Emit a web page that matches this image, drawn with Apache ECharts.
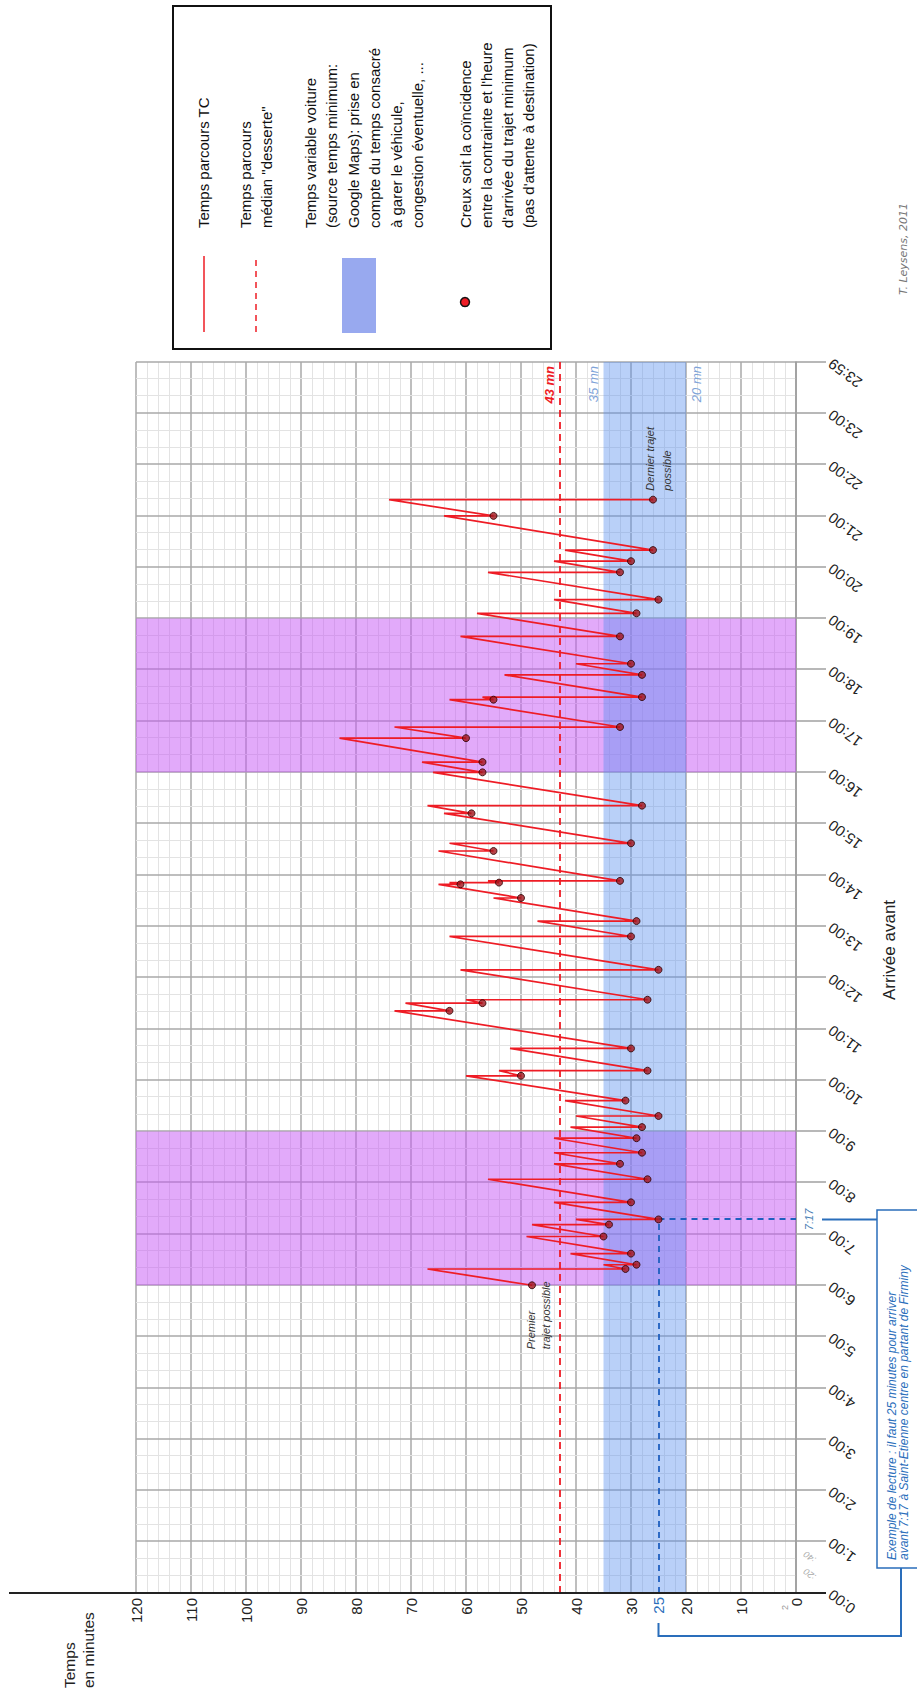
<!DOCTYPE html>
<html><head><meta charset="utf-8">
<script src="https://cdn.jsdelivr.net/npm/echarts@6/dist/echarts.min.js"></script>
<style>
html,body{margin:0;padding:0;background:#fff;overflow:hidden;width:917px;height:1691px;}
#wrap{position:absolute;left:0;top:0;width:1691px;height:917px;transform-origin:0 0;transform:translateY(1691px) rotate(-90deg);background:#fff;}
</style></head><body><div id="wrap"></div>
<script>
// ---- DATA ----
const tripTimes = ['6:00','6:19','6:24','6:37','6:57','7:11','7:17','7:37','8:04','8:22','8:35','8:52','9:05','9:18','9:36','10:05','10:11','10:37','11:21','11:30','11:34','12:09','12:48','13:06','13:33','13:49','13:51','13:53','14:28','14:37','15:12','15:21','16:00','16:12','16:40','16:53','17:25','17:28','17:54','18:07','18:39','19:06','19:22','19:54','20:07','20:20','21:00','21:19'];
const tripMinutes = [48,31,29,30,35,34,25,30,27,32,28,29,28,25,31,50,27,30,63,57,27,25,30,29,50,61,54,32,55,30,59,28,57,57,60,32,55,28,28,30,32,29,25,32,30,26,55,26];
const peakMinutes = [null,67,35,41,49,48,40,44,56,44,44,44,41,40,42,60,54,52,73,71,60,61,63,47,55,65,63,56,65,63,64,67,66,68,83,73,63,57,53,40,61,58,44,56,44,42,64,74];
const timeTickLabels = ['0:00','1:00','2:00','3:00','4:00','5:00','6:00','7:00','8:00','9:00','10:00','11:00','12:00','13:00','14:00','15:00','16:00','17:00','18:00','19:00','20:00','21:00','22:00','23:00','23:59'];
const minorTimeLabels = [':20', ':40'];
const carBand = [20, 35];
const peakHourBands = [[6, 9], [16, 19]];
const medianMinutes = 43;
const exampleTime = '7:17';
const exampleMinutes = 25;

// ---- BUILD ----
const toH = s => { const p = s.split(':'); return +p[0] + (+p[1]) / 60; };
const lineData = [];
tripTimes.forEach((t, i) => {
  const h = toH(t);
  if (i > 0) lineData.push([h, peakMinutes[i]]);
  lineData.push([h, tripMinutes[i]]);
});
const dotData = tripTimes.map((t, i) => [toH(t), tripMinutes[i]]);
const exH = toH(exampleTime);

const FONT = '"Liberation Sans", Arial, sans-serif';
const RED = '#ee1c25';
const BLUE = '#2a6ebb';

const chart = echarts.init(document.getElementById('wrap'), null, {renderer: 'svg', width: 1691, height: 917});
const bandLabel = (pos, txt) => ({show: true, position: pos, formatter: txt, color: '#7ea3d8', fontStyle: 'italic', fontSize: 13, fontFamily: FONT, distance: 4});
const option = {
  animation: false,
  backgroundColor: '#fff',
  grid: {left: 98, right: 362, top: 136, bottom: 121, containLabel: false, outerBoundsMode: 'none'},
  xAxis: {
    type: 'value', min: 0, max: 24, interval: 1,
    axisLine: {show: true, onZero: false, lineStyle: {color: '#9a9a9a', width: 1.5}},
    axisTick: {show: true, length: 30, lineStyle: {color: '#a0a0a0', width: 1.5}},
    axisLabel: {rotate: 53, margin: 34, fontSize: 15, color: '#222', fontFamily: FONT,
      showMinLabel: true, showMaxLabel: true,
      formatter: v => timeTickLabels[Math.round(v)]},
    splitLine: {show: true, lineStyle: {color: '#a8a8a8', width: 1.5}},
    minorTick: {show: true, splitNumber: 3, length: 0, lineStyle: {opacity: 0}},
    minorSplitLine: {show: true, lineStyle: {color: '#e3e3e3', width: 1}}
  },
  yAxis: {
    type: 'value', min: 0, max: 120, interval: 10,
    axisLine: {show: false}, axisTick: {show: false},
    axisLabel: {margin: 5, fontSize: 15, color: '#222', fontFamily: FONT, showMinLabel: true, showMaxLabel: true},
    splitLine: {show: true, lineStyle: {color: '#a8a8a8', width: 1.5}},
    minorTick: {show: true, splitNumber: 5, length: 0, lineStyle: {opacity: 0}},
    minorSplitLine: {show: true, lineStyle: {color: '#e3e3e3', width: 1}}
  },
  series: [
    {type: 'line', data: [], z: 1, silent: true,
      markArea: {silent: true, itemStyle: {color: 'rgba(197,85,245,0.5)'},
        data: peakHourBands.map(b => [{xAxis: b[0]}, {xAxis: b[1]}])}},
    {type: 'line', data: [], z: 2, silent: true,
      markArea: {silent: true, itemStyle: {color: 'rgba(88,143,238,0.42)'},
        data: [[{yAxis: carBand[0]}, {yAxis: carBand[1]}]]},
      markLine: {silent: true, symbol: 'none',
        lineStyle: {color: 'rgba(0,0,0,0)', width: 0},
        data: [
          {yAxis: carBand[1], label: bandLabel('insideEndTop', carBand[1] + ' mn')},
          {yAxis: carBand[0], label: bandLabel('insideEndBottom', carBand[0] + ' mn')}
        ]}},
    {type: 'line', data: [], z: 3, silent: true,
      markLine: {silent: true, symbol: 'none',
        lineStyle: {color: RED, type: [7, 5], width: 1.8},
        label: {show: true, position: 'insideEndTop', formatter: medianMinutes + ' mn', color: RED, fontStyle: 'italic', fontWeight: 'bold', fontSize: 13, fontFamily: FONT, distance: 4},
        data: [{yAxis: medianMinutes}]}},
    {type: 'line', data: [], z: 4, silent: true,
      markLine: {silent: true, symbol: 'none', label: {show: false},
        lineStyle: {color: '#1f5fbf', type: [6, 5], width: 1.8},
        data: [
          [{coord: [0, exampleMinutes]}, {coord: [exH, exampleMinutes]}],
          [{coord: [exH, exampleMinutes]}, {coord: [exH, 0]}]
        ]}},
    {type: 'line', data: lineData, z: 5, showSymbol: false, silent: true,
      lineStyle: {color: RED, width: 1.7}},
    {type: 'scatter', data: dotData, z: 6, symbolSize: 7, silent: true,
      itemStyle: {color: '#a3141c', borderColor: '#2a0000', borderWidth: 1}}
  ]
};
chart.setOption(option);

const P = (h, m) => chart.convertToPixel({gridIndex: 0}, [h, m]);
const x0 = P(0, 0)[0];
const yBottom = P(0, 0)[1];
const y25 = P(0, exampleMinutes)[1];
const xEx = P(exH, 0)[0];
const first = P(dotData[0][0], dotData[0][1]);
const last = P(dotData[dotData.length - 1][0], dotData[dotData.length - 1][1]);

function txt(x, y, text, o) {
  o = o || {};
  return {type: 'text', x: x, y: y, rotation: o.rot || 0, z: 100,
    style: {text: text, fill: o.color || '#111', fontSize: o.size || 15, fontFamily: o.family || FONT,
      fontStyle: o.style || 'normal', fontWeight: o.weight || 'normal',
      align: o.align || 'left', textAlign: o.align || 'left',
      verticalAlign: o.valign || 'middle', textVerticalAlign: o.valign || 'middle',
      lineHeight: o.lh || undefined}};
}
const g = [];
g.push({type: 'line', z: 100, shape: {x1: x0, y1: 9, x2: x0, y2: yBottom + 30}, style: {stroke: '#222', lineWidth: 2}});
g.push(txt(x0 - 4, y25, String(exampleMinutes), {color: BLUE, align: 'right'}));
g.push(txt(x0 - 12, P(0, 2)[1], '2', {color: '#999', size: 9, align: 'right'}));
[1 / 3, 2 / 3].forEach((h, i) => {
  g.push(txt(P(h, 0)[0] + 2, yBottom + 6, minorTimeLabels[i], {color: '#aaa', size: 9, style: 'italic', align: 'right', valign: 'top', rot: 53 * Math.PI / 180}));
});
g.push(txt(xEx, yBottom + 13, exampleTime, {color: '#4a7fb5', size: 11, style: 'italic', align: 'center'}));
g.push({type: 'line', z: 100, shape: {x1: xEx, y1: yBottom + 26, x2: xEx, y2: 877}, style: {stroke: BLUE, lineWidth: 2}});
g.push({type: 'rect', z: 100, shape: {x: 123, y: 877, width: 358, height: 50}, style: {fill: '#fff', stroke: BLUE, lineWidth: 1.5}});
g.push(txt(131, 898, 'Exemple de lecture : il faut 25 minutes pour arriver\navant 7:17 à Saint-Etienne centre en partant de Firminy', {color: BLUE, size: 12, style: 'italic', lh: 12.5}));
g.push({type: 'polyline', z: 100, shape: {points: [[68, y25], [55, y25], [55, 901], [123, 901]]}, style: {stroke: BLUE, lineWidth: 2, fill: null}});
g.push(txt(first[0] - 64, first[1] + 6, 'Premier\ntrajet possible', {color: '#333', size: 11, style: 'italic', lh: 15}));
g.push(txt(last[0] + 9, last[1] + 5, 'Dernier trajet\npossible', {color: '#333', size: 11, style: 'italic', lh: 17}));
g.push(txt(3, 79, 'Temps\nen minutes', {color: '#222', size: 15.5, lh: 19}));
g.push(txt(741, 889, 'Arrivée avant', {color: '#222', size: 17, align: 'center'}));
g.push(txt(1396, 903, 'T. Leysens, 2011', {color: '#777', size: 11, style: 'italic', family: '"DejaVu Sans", Verdana, sans-serif'}));
g.push({type: 'rect', z: 100, shape: {x: 1342, y: 173, width: 343, height: 378}, style: {fill: '#fff', stroke: '#111', lineWidth: 2}});
g.push({type: 'line', z: 101, shape: {x1: 1359, y1: 204, x2: 1435, y2: 204}, style: {stroke: RED, lineWidth: 1.5}});
g.push(txt(1463, 203, 'Temps parcours TC'));
g.push({type: 'line', z: 101, shape: {x1: 1359, y1: 256, x2: 1435, y2: 256}, style: {stroke: RED, lineWidth: 1.5, lineDash: [6, 5]}});
g.push(txt(1463, 256, 'Temps parcours\nmédian "desserte"', {lh: 20.5}));
g.push({type: 'rect', z: 101, shape: {x: 1358, y: 342, width: 75, height: 34}, style: {fill: '#98a9ef'}});
g.push(txt(1463, 364, 'Temps variable voiture\n(source temps minimum:\nGoogle Maps): prise en\ncompte du temps consacré\nà garer le véhicule,\ncongestion éventuelle, ...', {lh: 21.5}));
g.push({type: 'circle', z: 101, shape: {cx: 1389, cy: 465, r: 4.5}, style: {fill: RED, stroke: '#111', lineWidth: 1.5}});
g.push(txt(1463, 497, 'Creux soit la coïncidence\nentre la contrainte et l\'heure\nd\'arrivée du trajet minimum\n(pas d\'attente à destination)', {lh: 21.3}));

chart.setOption({graphic: {elements: g}});
</script></body></html>
